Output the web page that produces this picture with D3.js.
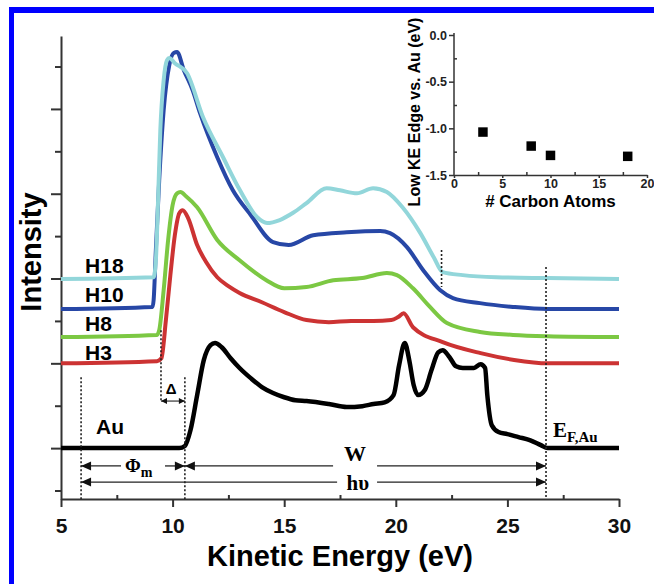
<!DOCTYPE html>
<html>
<head>
<meta charset="utf-8">
<script src="https://cdn.jsdelivr.net/npm/d3@7"></script>
<style>
  body { margin: 0; background: #fff; }
  svg { display: block; font-family: "Liberation Sans", Arial, sans-serif; }
</style>
</head>
<body>
<div id="chart"></div>
<script>
// stacked spectra: [kinetic energy (eV), offset intensity]
var au = [[5,0],[10.3,0],[10.55,0.05],[10.8,0.42],[11.1,1.25],[11.4,2.08],[11.7,2.43],[11.9,2.48],[12.2,2.38],[12.6,2.12],
  [13.0,1.89],[13.5,1.65],[14.0,1.44],[14.5,1.30],[15.0,1.20],[15.5,1.13],[16.0,1.11],[17.0,1.04],[17.8,0.97],[18.5,0.99],
  [19.0,1.04],[19.5,1.08],[19.9,1.25],[20.15,1.96],[20.4,2.48],[20.6,2.08],[20.8,1.49],[21.0,1.25],[21.3,1.37],[21.6,1.84],
  [21.9,2.26],[22.1,2.31],[22.4,2.15],[22.7,1.93],[23.0,1.89],[23.5,1.89],[23.8,1.98],[24.0,1.89],[24.1,1.25],[24.3,0.54],
  [24.6,0.38],[25.0,0.33],[25.5,0.26],[26.0,0.19],[26.5,0.07],[26.8,0],[30,0]];
var h3 = [[5,2.0],[9.3,2.05],[9.5,2.12],[9.7,3.02],[9.9,4.08],[10.1,5.02],[10.3,5.54],[10.45,5.61],[10.7,5.42],[11.1,4.79],
  [11.5,4.39],[12.0,4.03],[12.5,3.82],[13.0,3.66],[14.0,3.44],[15.0,3.21],[16.0,3.02],[17.0,2.97],[18.0,3.0],[19.0,3.0],
  [19.8,3.02],[20.1,3.09],[20.35,3.18],[20.77,2.85],[22.1,2.5],[23.8,2.24],[25.3,2.08],[26.8,2.0],[30,2.0]];
var h8 = [[5,2.62],[9.3,2.67],[9.4,2.78],[9.6,3.73],[9.8,4.91],[10.0,5.73],[10.2,6.01],[10.35,6.04],[10.6,5.94],[11.1,5.68],
  [12.0,4.91],[13.0,4.43],[14.2,3.96],[15.0,3.77],[16.0,3.8],[17.2,3.96],[18.5,4.01],[19.6,4.13],[20.05,4.08],[20.77,3.77],
  [21.53,3.33],[22.29,2.95],[23.77,2.74],[25.25,2.67],[26.8,2.64],[30,2.62]];
var h10 = [[5,3.28],[9.1,3.33],[9.15,3.49],[9.25,4.67],[9.4,6.32],[9.6,7.97],[9.85,9.03],[10.05,9.32],[10.2,9.34],[10.5,8.92],
  [10.9,8.44],[11.23,7.9],[12.0,6.86],[12.7,6.08],[13.5,5.5],[14.5,4.86],[15.2,4.79],[16.3,5.02],[17.8,5.09],[19.3,5.12],
  [19.74,5.07],[20.5,4.74],[21.22,4.2],[21.98,3.73],[22.56,3.54],[23.77,3.42],[25.25,3.33],[26.8,3.28],[30,3.28]];
var h18 = [[5,3.99],[9.15,4.03],[9.25,4.43],[9.35,5.85],[9.45,7.5],[9.6,8.68],[9.75,9.15],[9.85,9.2],[10.1,9.08],[10.65,8.84],
  [11.36,7.81],[12.26,6.86],[13.02,6.08],[13.78,5.45],[14.23,5.31],[14.8,5.38],[15.4,5.55],[16.0,5.78],[16.9,6.13],[17.5,6.08],
  [18.26,6.01],[18.98,6.13],[19.6,6.04],[20.3,5.68],[21.1,5.07],[21.7,4.5],[22.1,4.15],[23.0,4.08],[24.5,4.03],[26.8,4.01],[30,3.99]];

var xTicks = [5, 10, 15, 20, 25, 30];
var xMinor = [7.5, 12.5, 17.5, 22.5, 27.5];
var yTicks = [-1, 0, 1, 2, 3, 4, 5, 6, 7, 8, 9];

// inset: low KE edge shift vs chain length
var carbons = [3, 8, 10, 18];
var edgeShift = [-1.04, -1.19, -1.29, -1.30];
var insetXTicks = [0, 5, 10, 15, 20];
var insetYTicks = [0, -0.5, -1, -1.5];

var width = 654, height = 584;

var svg = d3.select("#chart").append("svg")
  .attr("width", width)
  .attr("height", height);

svg.append("rect").attr("width", width).attr("height", height).attr("fill", "#fff");

var x = d3.scaleLinear().domain([5, 30]).range([61, 619]);
var y = d3.scaleLinear().domain([-1.2, 9.72]).range([499, 36]);

// x axis
var gx = svg.append("g")
  .attr("transform", "translate(0," + y(-1.2) + ")")
  .call(d3.axisBottom(x).tickValues(xTicks).tickSize(8).tickSizeOuter(0).tickPadding(11));
gx.selectAll("text")
  .style("font-size", "21px").style("font-weight", "bold").attr("fill", "#111");

svg.append("g")
  .attr("transform", "translate(0," + y(-1.2) + ")")
  .call(d3.axisBottom(x).tickValues(xMinor).tickSize(-4).tickFormat(""))
  .select(".domain").remove();

// y axis, no labels
var gy = svg.append("g")
  .attr("transform", "translate(" + x(5) + ",0)")
  .call(d3.axisLeft(y).tickValues(yTicks).tickSizeOuter(0).tickFormat(""));
gy.selectAll(".tick line").attr("x2", function(d) { return d % 2 === 0 ? -10 : -6; });

svg.selectAll(".domain, .tick line").attr("stroke", "#333").attr("stroke-width", 2);

svg.append("text")
  .attr("transform", "translate(41," + 252 + ") rotate(-90)")
  .attr("text-anchor", "middle")
  .style("font-size", "29px").style("font-weight", "bold")
  .text("Intensity");

svg.append("text")
  .attr("x", (x(5) + x(30)) / 2)
  .attr("y", 566)
  .attr("text-anchor", "middle")
  .style("font-size", "29px").style("font-weight", "bold")
  .text("Kinetic Energy (eV)");

// spectra
var line = d3.line()
  .x(function(d) { return x(d[0]); })
  .y(function(d) { return y(d[1]); })
  .curve(d3.curveMonotoneX);

var series = [
  { data: au, color: "#000000", w: 4.5 },
  { data: h3, color: "#cc3333", w: 4 },
  { data: h8, color: "#7cc843", w: 4 },
  { data: h10, color: "#2747a6", w: 4 },
  { data: h18, color: "#92d6da", w: 4 }
];
svg.selectAll("path.spec")
  .data(series)
  .enter().append("path")
  .attr("class", "spec")
  .attr("d", function(s) { return line(s.data); })
  .attr("fill", "none")
  .attr("stroke", function(s) { return s.color; })
  .attr("stroke-width", function(s) { return s.w; })
  .attr("stroke-linejoin", "round");

// series labels
var seriesLabels = [["H18", 4.13], ["H10", 3.44], ["H8", 2.76], ["H3", 2.08]];
svg.selectAll("text.lab")
  .data(seriesLabels)
  .enter().append("text")
  .attr("class", "lab")
  .attr("x", x(6.08))
  .attr("y", function(d) { return y(d[1]); })
  .style("font-size", "21px").style("font-weight", "bold")
  .text(function(d) { return d[0]; });

svg.append("text")
  .attr("x", x(6.57)).attr("y", y(0.33))
  .style("font-size", "21px").style("font-weight", "bold")
  .text("Au");

// dotted guides: [eV, from, to]
var guides = [[5.9, 1.67, -1.2], [10.55, 1.67, -1.2], [9.48, 2.78, 1.11], [22.05, 4.67, 3.8], [26.73, 4.27, -1.2]];
svg.selectAll("line.guide")
  .data(guides)
  .enter().append("line")
  .attr("class", "guide")
  .attr("x1", function(d) { return x(d[0]); })
  .attr("x2", function(d) { return x(d[0]); })
  .attr("y1", function(d) { return y(d[1]); })
  .attr("y2", function(d) { return y(d[2]); })
  .attr("stroke", "#222")
  .attr("stroke-width", 1.6)
  .attr("stroke-dasharray", "2,2");

function head(px, py, dir, len, half) {
  svg.append("path")
    .attr("d", "M" + px + "," + py + "L" + (px - dir * len) + "," + (py - half) + "L" + (px - dir * len) + "," + (py + half) + "Z")
    .attr("fill", "#111");
}

// arrows: [level, from eV, to eV, gap start, gap end]
var arrows = [[-0.42, 5.9, 10.55, 7.69, 9.66], [-0.42, 10.55, 26.73, 17.19, 19.16], [-0.8, 5.9, 26.73, 17.37, 19.16]];
arrows.forEach(function(a) {
  var py = y(a[0]);
  [[a[1], a[3]], [a[4], a[2]]].forEach(function(s) {
    svg.append("line")
      .attr("x1", x(s[0])).attr("x2", x(s[1]))
      .attr("y1", py).attr("y2", py)
      .attr("stroke", "#222").attr("stroke-width", 1.3);
  });
  head(x(a[1]), py, -1, 10, 4.5);
  head(x(a[2]), py, 1, 10, 4.5);
});

// delta arrow
var dy0 = y(1.11);
svg.append("line")
  .attr("x1", x(9.48)).attr("x2", x(10.55))
  .attr("y1", dy0).attr("y2", dy0)
  .attr("stroke", "#222").attr("stroke-width", 1.1);
head(x(9.48), dy0, -1, 6, 3);
head(x(10.55), dy0, 1, 6, 3);

svg.append("text")
  .attr("x", x(9.93)).attr("y", y(1.27))
  .attr("text-anchor", "middle")
  .style("font-size", "15px").style("font-weight", "bold")
  .text("\u0394");

var serif = "'Liberation Serif', 'Times New Roman', serif";

var phi = svg.append("text")
  .attr("x", x(7.87)).attr("y", y(-0.57))
  .style("font-family", serif).style("font-weight", "bold").style("font-size", "19px");
phi.append("tspan").text("\u03A6");
phi.append("tspan").attr("dy", 5).style("font-size", "14px").text("m");

svg.append("text")
  .attr("x", x(18.17)).attr("y", y(-0.31))
  .attr("text-anchor", "middle")
  .style("font-family", serif).style("font-weight", "bold").style("font-size", "22px")
  .text("W");

svg.append("text")
  .attr("x", x(18.3)).attr("y", y(-0.99))
  .attr("text-anchor", "middle")
  .style("font-family", serif).style("font-weight", "bold").style("font-size", "21px")
  .text("h\u03C5");

var ef = svg.append("text")
  .attr("x", x(27.04)).attr("y", y(0.26))
  .style("font-family", serif).style("font-weight", "bold").style("font-size", "21px");
ef.append("tspan").text("E");
ef.append("tspan").attr("dy", 5).style("font-size", "15px").text("F,Au");

// inset
var ix = d3.scaleLinear().domain([0, 20]).range([454, 647]);
var iy = d3.scaleLinear().domain([-1.5, 0]).range([175, 35]);
var inset = svg.append("g");

var igx = inset.append("g")
  .attr("transform", "translate(0," + iy(-1.5) + ")")
  .call(d3.axisBottom(ix).tickValues(insetXTicks).tickSize(3).tickSizeOuter(0).tickPadding(1));
var igy = inset.append("g")
  .attr("transform", "translate(" + ix(0) + ",0)")
  .call(d3.axisLeft(iy).tickValues(insetYTicks).tickSize(5).tickSizeOuter(0).tickPadding(2)
    .tickFormat(function(d) { return d.toFixed(1); }));
igy.select(".domain").attr("d", "M0," + (iy(0) - 2) + "V" + iy(-1.5));
inset.append("g")
  .attr("transform", "translate(0," + iy(-1.5) + ")")
  .call(d3.axisBottom(ix).tickValues([2.5, 7.5, 12.5, 17.5]).tickSize(-3).tickFormat(""))
  .select(".domain").remove();
inset.append("g")
  .attr("transform", "translate(" + ix(0) + ",0)")
  .call(d3.axisLeft(iy).tickValues([-0.25, -0.75, -1.25]).tickSize(-3).tickFormat(""))
  .select(".domain").remove();
inset.selectAll(".domain, .tick line").attr("stroke", "#333").attr("stroke-width", 1.5);
inset.selectAll("text")
  .style("font-size", "12.5px").style("font-weight", "bold").attr("fill", "#222");

inset.selectAll("path.pt")
  .data(carbons)
  .enter().append("path")
  .attr("class", "pt")
  .attr("transform", function(d, i) { return "translate(" + ix(d) + "," + iy(edgeShift[i]) + ")"; })
  .attr("d", d3.symbol(d3.symbolSquare, 90))
  .attr("fill", "#000");

inset.append("text")
  .attr("x", (ix(0) + ix(20)) / 2).attr("y", 207)
  .attr("text-anchor", "middle")
  .style("font-size", "17px").style("font-weight", "bold")
  .text("# Carbon Atoms");

inset.append("text")
  .attr("transform", "translate(420,112) rotate(-90)")
  .attr("text-anchor", "middle")
  .style("font-size", "16px").style("font-weight", "bold")
  .text("Low KE Edge vs. Au (eV)");

// blue frame
svg.append("rect").attr("x", 9).attr("y", 7).attr("width", width - 9).attr("height", 6).attr("fill", "#0000ff");
svg.append("rect").attr("x", 9).attr("y", 7).attr("width", 5).attr("height", height - 7).attr("fill", "#0000ff");
</script>
</body>
</html>
